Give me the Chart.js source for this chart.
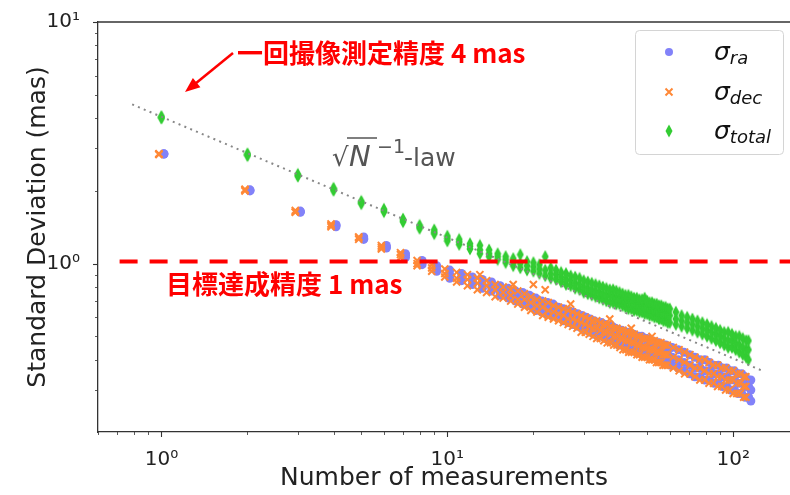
<!DOCTYPE html>
<html>
<head>
<meta charset="utf-8">
<script src="https://cdn.jsdelivr.net/npm/chart.js@4.4.0/dist/chart.umd.min.js"></script>
<style>
  html, body { margin: 0; background: #fff; overflow: hidden; }
</style>
</head>
<body>
<canvas id="myChart" width="798" height="495"></canvas>
<script>
// number of measurements per star
var nValues = [1,2,3,4,5,6,7,8,9,10,11,12,13,14,15,16,17,18,19,20,21,22,23,24,25,26,27,28,29,30,
  31,32,33,34,35,36,37,38,39,40,41,42,43,44,45,46,47,48,49,50,51,52,53,54,55,56,57,58,59,60,
  63,66,69,72,75,78,81,84,87,90,93,96,99,102,105,108,111,113];

// sigma_ra (mas): lower edge, middle, upper edge of the spread at each N
var raLo = [2.84,2.00,1.63,1.42,1.26,1.16,1.06,0.99,0.93,0.87, 0.85,0.82,0.79,0.77,0.74,0.72,0.70,0.68,0.67,0.64,
  0.63,0.62,0.61,0.60,0.58,0.57,0.56,0.55,0.54,0.53,
  0.52,0.51,0.50,0.50,0.49,0.48,0.48,0.47,0.46,0.46,0.45,0.45,0.44,0.44,0.43,0.43,0.42,0.42,0.42,0.41,
  0.41,0.41,0.40,0.40,0.40,0.39,0.39,0.39,0.38,0.38,
  0.37,0.36,0.35,0.34,0.34,0.33,0.33,0.32,0.32,0.31,0.31,0.30,0.30,0.29,0.29,0.28,0.28, 0.27];
var raMid = [2.84,2.01,1.64,1.44,1.27,1.17,1.08,1.01,0.95,0.90, 0.88,0.85,0.82,0.80,0.77,0.75,0.73,0.72,0.70,0.68,
  0.66,0.65,0.64,0.63,0.61,0.60,0.59,0.58,0.57,0.56,
  0.55,0.55,0.54,0.53,0.53,0.52,0.52,0.50,0.50,0.49,0.49,0.48,0.47,0.47,0.47,0.46,0.45,0.45,0.45,0.44,
  0.44,0.44,0.44,0.43,0.43,0.42,0.42,0.42,0.41,0.41,
  0.40,0.39,0.38,0.37,0.37,0.36,0.36,0.35,0.35,0.34,0.34,0.33,0.33,0.32,0.32,0.31,0.31, 0.30];
var raHi = [2.85,2.02,1.65,1.45,1.29,1.19,1.10,1.03,0.98,0.94, 0.91,0.88,0.86,0.84,0.81,0.79,0.77,0.76,0.74,0.72,
  0.70,0.69,0.68,0.66,0.65,0.64,0.63,0.62,0.61,0.60,
  0.59,0.58,0.57,0.57,0.56,0.55,0.55,0.54,0.53,0.53,0.52,0.52,0.51,0.51,0.50,0.50,0.50,0.49,0.49,0.48,
  0.48,0.47,0.47,0.47,0.46,0.46,0.46,0.45,0.45,0.45,
  0.44,0.43,0.42,0.41,0.40,0.40,0.39,0.38,0.38,0.37,0.37,0.36,0.36,0.35,0.35,0.34,0.33, 0.33];

// sigma_dec (mas)
var decLo = [2.83,2.00,1.63,1.42,1.26,1.15,1.06,0.98,0.93,0.88, 0.84,0.81,0.78,0.76,0.73,0.72,0.70,0.68,0.66,0.64,
  0.63,0.61,0.60,0.59,0.58,0.57,0.56,0.55,0.54,0.52,
  0.52,0.51,0.50,0.49,0.49,0.48,0.47,0.47,0.46,0.46,0.45,0.44,0.44,0.43,0.43,0.43,0.42,0.42,0.41,0.41,
  0.41,0.40,0.40,0.40,0.39,0.39,0.39,0.38,0.38,0.38,
  0.37,0.36,0.35,0.35,0.34,0.33,0.33,0.32,0.32,0.31,0.31,0.30,0.30,0.29,0.29,0.29,0.28, 0.28];
var decMid = [2.84,2.02,1.64,1.44,1.28,1.17,1.09,1.00,0.96,0.91, 0.87,0.86,0.83,0.81,0.78,0.76,0.74,0.71,0.71,0.69,
  0.67,0.66,0.64,0.63,0.62,0.61,0.59,0.59,0.58,0.57,
  0.56,0.55,0.54,0.54,0.53,0.52,0.52,0.51,0.50,0.50,0.49,0.49,0.48,0.48,0.47,0.47,0.46,0.46,0.45,0.45,
  0.45,0.44,0.44,0.44,0.43,0.43,0.43,0.42,0.42,0.42,
  0.41,0.40,0.39,0.38,0.37,0.37,0.36,0.35,0.35,0.34,0.34,0.33,0.33,0.33,0.32,0.32,0.31, 0.31];
var decHi = [2.85,2.03,1.66,1.46,1.29,1.19,1.11,1.03,0.99,0.95, 0.92,0.90,0.87,0.85,0.82,0.80,0.78,0.77,0.75,0.73,
  0.71,0.70,0.69,0.67,0.66,0.65,0.64,0.63,0.62,0.61,
  0.60,0.59,0.58,0.58,0.57,0.56,0.56,0.55,0.54,0.54,0.53,0.53,0.52,0.52,0.51,0.51,0.50,0.50,0.49,0.49,
  0.49,0.48,0.48,0.48,0.47,0.47,0.47,0.46,0.46,0.46,
  0.45,0.44,0.43,0.42,0.41,0.40,0.40,0.39,0.38,0.38,0.37,0.37,0.36,0.36,0.35,0.35,0.34, 0.34];
// a few dec points well above the band
var decOutN = [13, 17, 20, 22, 27, 37, 44, 52];
var decOutV = [0.90, 0.82, 0.82, 0.78, 0.68, 0.59, 0.54, 0.50];

// sigma_total (mas)
var totLo = [4.00,2.80,2.30,2.01,1.77,1.64,1.49,1.40,1.33,1.24, 1.20,1.15,1.10,1.07,1.04,1.01,0.98,0.96,0.94,0.93,
  0.91,0.89,0.87,0.86,0.84,0.82,0.81,0.79,0.78,0.76,
  0.75,0.74,0.73,0.72,0.71,0.70,0.69,0.69,0.68,0.68,0.67,0.66,0.65,0.65,0.64,0.64,0.63,0.63,0.62,0.62,
  0.61,0.61,0.60,0.60,0.59,0.59,0.58,0.58,0.57,0.57,
  0.56,0.55,0.54,0.53,0.52,0.51,0.50,0.49,0.48,0.47,0.46,0.45,0.45,0.44,0.43,0.42,0.41, 0.40];
var totMid = [4.03,2.82,2.32,2.03,1.79,1.66,1.51,1.42,1.35,1.27, 1.23,1.18,1.14,1.10,1.07,1.04,1.01,1.00,0.98,0.97,
  0.95,0.94,0.91,0.90,0.88,0.86,0.85,0.83,0.82,0.80,
  0.79,0.78,0.77,0.76,0.75,0.74,0.74,0.73,0.72,0.72,0.71,0.70,0.70,0.69,0.68,0.68,0.67,0.67,0.66,0.66,
  0.65,0.65,0.64,0.64,0.63,0.63,0.62,0.62,0.61,0.61,
  0.59,0.58,0.57,0.56,0.55,0.54,0.53,0.52,0.51,0.50,0.49,0.48,0.48,0.47,0.46,0.45,0.44, 0.44];
var totHi = [4.06,2.85,2.34,2.05,1.81,1.68,1.53,1.44,1.38,1.30, 1.26,1.21,1.19,1.14,1.10,1.07,1.05,1.09,1.02,1.01,
  0.99,1.07,0.96,0.94,0.92,0.91,0.89,0.88,0.87,0.85,
  0.84,0.83,0.82,0.81,0.80,0.79,0.78,0.78,0.77,0.76,0.75,0.74,0.74,0.73,0.72,0.72,0.71,0.71,0.72,0.70,
  0.69,0.69,0.68,0.68,0.67,0.67,0.66,0.66,0.65,0.65,
  0.63,0.61,0.60,0.59,0.58,0.57,0.56,0.55,0.54,0.53,0.52,0.52,0.51,0.50,0.50,0.49,0.48, 0.48];

// sqrt(N)^-1 reference line and the 1 mas target line
var lawN = [0.79, 126];
var lawV = [4.56, 0.361];
var targetN = [0.714, 158];
var targetV = [1.02, 1.02];

var xTickLabels = {'0': '10\u2070', '1': '10\u00b9', '2': '10\u00b2'};
var yTickLabels = {'0': '10\u2070', '1': '10\u00b9'};

var blue = '#8282f9', orange = '#ff8836', green = '#33cc33';

function pts(xs, ys, shift) {
  return xs.map(function (x, i) { return {x: x * shift, y: ys[i]}; });
}

function diamond(color) {
  var c = document.createElement('canvas');
  c.width = 8; c.height = 14;
  var g = c.getContext('2d');
  g.fillStyle = color;
  g.beginPath();
  g.moveTo(4, 0.5); g.lineTo(7.5, 7); g.lineTo(4, 13.5); g.lineTo(0.5, 7);
  g.closePath(); g.fill();
  return c;
}
var diamondMark = diamond(green);

function decadeLabel(map) {
  return function (v) {
    var e = Math.log10(v), r = Math.round(e);
    if (Math.abs(e - r) < 1e-6 && map[String(r)]) return map[String(r)];
    return '';
  };
}

var decor = {
  id: 'decor',
  afterDraw: function (chart) {
    var ctx = chart.ctx, a = chart.chartArea, xs = chart.scales.x, ys = chart.scales.y;
    ctx.save();
    // top spine
    ctx.strokeStyle = '#333'; ctx.lineWidth = 1.3;
    ctx.beginPath(); ctx.moveTo(a.left, a.top); ctx.lineTo(a.right, a.top); ctx.stroke();
    // tick marks (major + minor), outward
    for (var d = -1; d <= 2; d++) {
      for (var m = 1; m <= 9; m++) {
        var v = m * Math.pow(10, d);
        var len = m === 1 ? 5 : 3;
        ctx.lineWidth = m === 1 ? 1.1 : 0.8;
        if (v >= xs.min && v <= xs.max) {
          var px = Math.round(xs.getPixelForValue(v)) + 0.5;
          ctx.beginPath(); ctx.moveTo(px, a.bottom); ctx.lineTo(px, a.bottom + len); ctx.stroke();
        }
        if (v >= ys.min && v <= ys.max) {
          var py = Math.round(ys.getPixelForValue(v)) + 0.5;
          ctx.beginPath(); ctx.moveTo(a.left, py); ctx.lineTo(a.left - len, py); ctx.stroke();
        }
      }
    }

    // arrow + annotations
    ctx.strokeStyle = '#ff0000'; ctx.fillStyle = '#ff0000'; ctx.lineWidth = 2.5;
    var x0 = 233, y0 = 53, x1 = 185, y1 = 92;
    var ang = Math.atan2(y1 - y0, x1 - x0);
    ctx.beginPath(); ctx.moveTo(x0, y0);
    ctx.lineTo(x1 - 12 * Math.cos(ang), y1 - 12 * Math.sin(ang)); ctx.stroke();
    ctx.beginPath();
    ctx.moveTo(x1, y1);
    ctx.lineTo(x1 - 15 * Math.cos(ang) + 6 * Math.sin(ang), y1 - 15 * Math.sin(ang) - 6 * Math.cos(ang));
    ctx.lineTo(x1 - 15 * Math.cos(ang) - 6 * Math.sin(ang), y1 - 15 * Math.sin(ang) + 6 * Math.cos(ang));
    ctx.closePath(); ctx.fill();

    ctx.font = 'bold 26px "Noto Sans CJK JP"';
    ctx.textBaseline = 'alphabetic'; ctx.textAlign = 'left';
    ctx.fillText('一回撮像測定精度 4 mas', 237, 63);
    ctx.fillText('目標達成精度 1 mas', 166, 294);

    // sqrt(N)^-1-law label
    ctx.fillStyle = '#555'; ctx.strokeStyle = '#555';
    ctx.font = '26px "DejaVu Sans"';
    ctx.fillText('\u221a', 332, 166);
    ctx.lineWidth = 1.5;
    ctx.beginPath(); ctx.moveTo(347, 138); ctx.lineTo(377, 138); ctx.stroke();
    ctx.font = 'oblique 29px "DejaVu Sans"';
    ctx.fillText('N', 349, 166);
    ctx.font = '19px "DejaVu Sans"';
    ctx.fillText('\u22121', 377, 153);
    ctx.font = '25px "DejaVu Sans"';
    ctx.fillText('-law', 404, 166);

    // legend
    var lx = 635, ly = 30, lw = 148, lh = 124;
    ctx.fillStyle = 'rgba(255,255,255,0.8)'; ctx.strokeStyle = '#d4d4d4'; ctx.lineWidth = 1;
    ctx.beginPath(); ctx.roundRect(lx + 0.5, ly + 0.5, lw, lh, 4); ctx.fill(); ctx.stroke();
    var rows = [['ra', 52], ['dec', 92], ['total', 131]];
    ctx.fillStyle = blue;
    ctx.beginPath(); ctx.arc(669, rows[0][1], 4, 0, Math.PI * 2); ctx.fill();
    ctx.strokeStyle = orange; ctx.lineWidth = 2;
    ctx.beginPath();
    ctx.moveTo(665.5, rows[1][1] - 3.5); ctx.lineTo(672.5, rows[1][1] + 3.5);
    ctx.moveTo(672.5, rows[1][1] - 3.5); ctx.lineTo(665.5, rows[1][1] + 3.5);
    ctx.stroke();
    ctx.drawImage(diamondMark, 665, rows[2][1] - 7);
    ctx.fillStyle = '#111';
    rows.forEach(function (r) {
      ctx.font = 'oblique 25px "DejaVu Sans"';
      ctx.fillText('\u03c3', 714, r[1] + 8);
      var w = ctx.measureText('\u03c3').width;
      ctx.font = 'oblique 18px "DejaVu Sans"';
      ctx.fillText(r[0], 714 + w, r[1] + 12);
    });
    ctx.restore();
  }
};

var ctx = document.getElementById('myChart').getContext('2d');
var chart = new Chart(ctx, {
  type: 'scatter',
  data: {
    datasets: [
      {
        label: 'law', data: pts(lawN, lawV, 1), showLine: true,
        borderColor: '#888', borderWidth: 2, borderDash: [2, 4.3], pointRadius: 0
      },
      {
        label: 'target', data: pts(targetN, targetV, 1), showLine: true,
        borderColor: '#ff0000', borderWidth: 4, borderDash: [18, 12], pointRadius: 0
      },
      {
        label: 'total',
        data: pts(nValues, totLo, 1).concat(pts(nValues, totMid, 1), pts(nValues, totHi, 1)),
        pointStyle: diamondMark, pointRadius: 6
      },
      {
        label: 'dec',
        data: pts(nValues, decLo, 0.98).concat(pts(nValues, decMid, 0.98), pts(nValues, decHi, 0.98), pts(decOutN, decOutV, 1)),
        pointStyle: 'crossRot', pointRadius: 5, borderColor: orange, borderWidth: 2
      },
      {
        label: 'ra',
        data: pts(nValues, raLo, 1.02).concat(pts(nValues, raMid, 1.02), pts(nValues, raHi, 1.02)),
        pointStyle: 'circle', pointRadius: 4.5, backgroundColor: blue, borderWidth: 0
      }
    ]
  },
  options: {
    responsive: false,
    animation: false,
    devicePixelRatio: 1,
    layout: {padding: {top: 17, right: 0, left: 0, bottom: 0}},
    plugins: {legend: {display: false}, tooltip: {enabled: false}},
    scales: {
      x: {
        type: 'logarithmic', min: 0.618, max: 158,
        grid: {display: false},
        border: {display: true, color: '#333', width: 1.3},
        ticks: {
          autoSkip: false, maxRotation: 0, padding: 8, color: '#222',
          font: {family: 'DejaVu Sans', size: 20},
          callback: decadeLabel(xTickLabels)
        },
        title: {
          display: true, text: 'Number of measurements', color: '#222',
          font: {family: 'DejaVu Sans', size: 25}, padding: {top: 0, bottom: 2}
        },
        afterFit: function (s) { s.height = 63; }
      },
      y: {
        type: 'logarithmic', min: 0.201, max: 10,
        grid: {display: false},
        border: {display: true, color: '#333', width: 1.3},
        ticks: {
          autoSkip: false, padding: 10, color: '#222',
          font: {family: 'DejaVu Sans', size: 20},
          callback: decadeLabel(yTickLabels)
        },
        title: {
          display: true, text: 'Standard Deviation (mas)', color: '#222',
          font: {family: 'DejaVu Sans', size: 25}, padding: {top: 23, bottom: 0}
        },
        afterFit: function (s) { s.width = 98; }
      }
    }
  },
  plugins: [decor]
});
</script>
</body>
</html>
